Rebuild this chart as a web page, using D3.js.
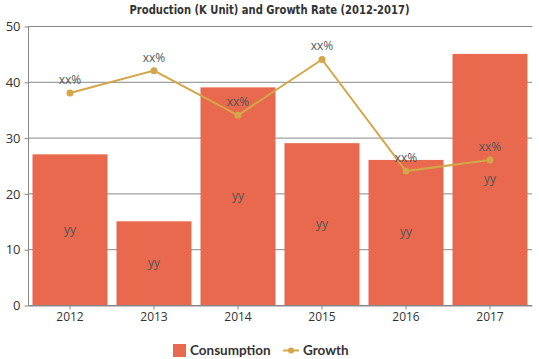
<!DOCTYPE html>
<html>
<head>
<meta charset="utf-8">
<script src="https://cdn.jsdelivr.net/npm/d3@7"></script>
<style>
body { margin: 0; background: #fff; }
</style>
</head>
<body>
<script>
var w = 539;
var h = 359;
var years = ["2012", "2013", "2014", "2015", "2016", "2017"];
var consumption = [27, 15, 39, 29, 26, 45];
var growth = [38, 42, 34, 44, 24, 26];
var yTicks = [0, 10, 20, 30, 40, 50];

var margin = {top: 26, right: 7, bottom: 54, left: 28};
var barInset = 4.5;

var svg = d3.select("body")
            .append("svg")
            .attr("width", w)
            .attr("height", h);

var x = d3.scaleBand()
    .domain(years)
    .range([margin.left, w - margin.right])
    .padding(0);

var y = d3.scaleLinear()
    .domain([0, 50])
    .range([h - margin.bottom, margin.top]);

// grid
svg.selectAll("line.grid")
    .data(yTicks)
    .enter()
    .append("line")
    .attr("class", "grid")
    .attr("x1", margin.left)
    .attr("x2", w - margin.right)
    .attr("y1", function(d){ return y(d) + 0.5; })
    .attr("y2", function(d){ return y(d) + 0.5; })
    .attr("stroke", "#888")
    .attr("stroke-width", 1);

// bars
svg.selectAll("rect.bar")
    .data(consumption)
    .enter()
    .append("rect")
    .attr("class", "bar")
    .attr("x", function(d, i){ return x(years[i]) + barInset; })
    .attr("y", function(d){ return y(d); })
    .attr("width", x.bandwidth() - 2 * barInset)
    .attr("height", function(d){ return y(0) - y(d); })
    .attr("fill", "#e8694e");

svg.selectAll("text.yy")
    .data(consumption)
    .enter()
    .append("text")
    .attr("class", "yy")
    .text("yy")
    .attr("x", function(d, i){ return x(years[i]) + x.bandwidth() / 2; })
    .attr("y", function(d){ return (y(d) + y(0)) / 2 + 4; })
    .attr("text-anchor", "middle")
    .attr("font-family", "Open Sans")
    .attr("font-size", "12px")
    .attr("fill", "#555");

// y axis
var yAxis = d3.axisLeft(y).tickValues(yTicks).tickSize(4).tickPadding(4);
var gy = svg.append("g")
    .attr("transform", "translate(" + (margin.left + 0.5) + ",0.5)")
    .call(yAxis);
gy.select(".domain").attr("stroke", "#888").attr("d", "M0," + y(50) + "V" + y(0));
gy.selectAll(".tick line").attr("stroke", "#888");
gy.selectAll("text")
    .attr("font-family", "Open Sans")
    .attr("font-size", "13px")
    .attr("fill", "#333");

// x axis
var xAxis = d3.axisBottom(x).tickSize(4).tickSizeOuter(0).tickPadding(3);
var gx = svg.append("g")
    .attr("transform", "translate(0," + (y(0) + 0.5) + ")")
    .call(xAxis);
gx.select(".domain").attr("stroke", "#888");
gx.selectAll(".tick line").attr("stroke", "#888");
gx.selectAll("text")
    .attr("font-family", "Open Sans")
    .attr("font-size", "12px")
    .attr("fill", "#333");

// growth line
var line = d3.line()
    .x(function(d, i){ return x(years[i]) + x.bandwidth() / 2; })
    .y(function(d){ return y(d); });

svg.append("path")
    .datum(growth)
    .attr("d", line)
    .attr("fill", "none")
    .attr("stroke", "#d4a64a")
    .attr("stroke-width", 2);

svg.selectAll("circle.pt")
    .data(growth)
    .enter()
    .append("circle")
    .attr("class", "pt")
    .attr("cx", function(d, i){ return x(years[i]) + x.bandwidth() / 2; })
    .attr("cy", function(d){ return y(d); })
    .attr("r", 3.5)
    .attr("fill", "#d4a64a");

svg.selectAll("text.xx")
    .data(growth)
    .enter()
    .append("text")
    .attr("class", "xx")
    .text("xx%")
    .attr("x", function(d, i){ return x(years[i]) + x.bandwidth() / 2; })
    .attr("y", function(d){ return y(d) - 9; })
    .attr("text-anchor", "middle")
    .attr("font-family", "Open Sans")
    .attr("font-size", "12px")
    .attr("fill", "#555");

// title
svg.append("text")
    .text("Production (K Unit) and Growth Rate (2012-2017)")
    .attr("x", w / 2)
    .attr("y", 14)
    .attr("text-anchor", "middle")
    .attr("textLength", 280)
    .attr("lengthAdjust", "spacingAndGlyphs")
    .attr("font-family", "DejaVu Sans Condensed")
    .attr("font-weight", "bold")
    .attr("font-size", "12px")
    .attr("fill", "#333");

// legend
var lg = svg.append("g").attr("transform", "translate(0,350)");
lg.append("rect")
    .attr("x", 173).attr("y", -6)
    .attr("width", 13).attr("height", 13)
    .attr("fill", "#e8694e");
lg.append("text")
    .text("Consumption")
    .attr("x", 190).attr("y", 5)
    .attr("font-family", "Lato")
    .attr("font-weight", "bold")
    .attr("font-size", "13.5px")
    .attr("fill", "#333");
lg.append("line")
    .attr("x1", 283).attr("x2", 299)
    .attr("y1", 0.5).attr("y2", 0.5)
    .attr("stroke", "#d4a64a").attr("stroke-width", 2);
lg.append("circle")
    .attr("cx", 291).attr("cy", 0.5).attr("r", 3)
    .attr("fill", "#d4a64a");
lg.append("text")
    .text("Growth")
    .attr("x", 303).attr("y", 5)
    .attr("font-family", "Lato")
    .attr("font-weight", "bold")
    .attr("font-size", "13.5px")
    .attr("fill", "#333");
</script>
</body>
</html>
